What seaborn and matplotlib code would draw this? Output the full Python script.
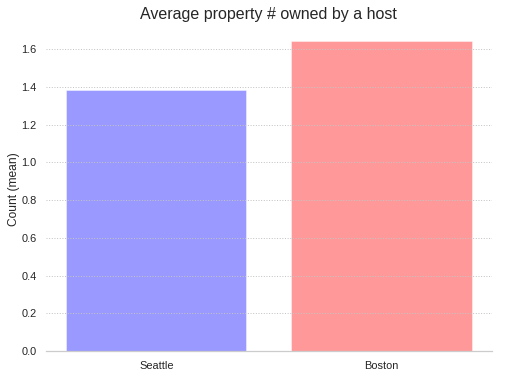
import pandas as pd
from matplotlib import pyplot as plt
import seaborn as sns

cities = ['Seattle', 'Boston']
mean_count = [1.385, 1.643]
colors = ['blue', 'red']

sns.set_theme(style='whitegrid')
plt.rcParams['font.family'] = ['Liberation Sans', 'DejaVu Sans']

df = pd.DataFrame({'city': cities, 'count': mean_count})

fig, ax = plt.subplots(figsize=(505 / 72, 378 / 72), dpi=72)
fig.subplots_adjust(left=0.091, right=0.974, bottom=0.071, top=0.93)
sns.barplot(data=df, x='city', y='count', hue='city', palette=colors, saturation=1,
            alpha=0.4, width=0.8, edgecolor='white', linewidth=1, ax=ax, legend=False)
ax.set_xlim(-0.49, 1.49)
ax.set_ylim(0, 1.72)
ax.set_axisbelow(False)
ax.grid(axis='y', linestyle=':', color='#c4c4c4', linewidth=1)
ax.grid(axis='x', visible=False)
sns.despine(left=True)
ax.spines['bottom'].set_color('#cccccc')
ax.set_xlabel('')
ax.set_ylabel('Count (mean)', fontsize=12, labelpad=1)
ax.set_title('Average property # owned by a host', fontsize=16, pad=7)
ax.tick_params(labelsize=11)
fig.savefig('out.png', dpi=72)
